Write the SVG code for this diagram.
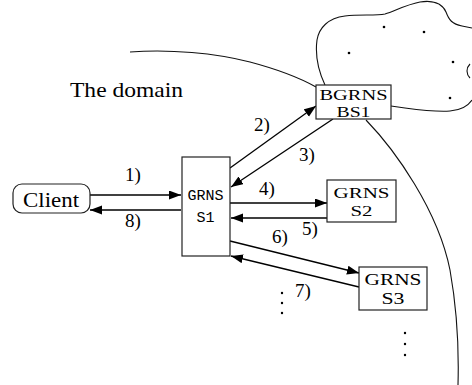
<svg xmlns="http://www.w3.org/2000/svg" width="472" height="385" viewBox="0 0 472 385">
<defs>
<style>
.box{fill:#fff;stroke:#222;stroke-width:1.2}
.curve{fill:none;stroke:#111;stroke-width:1.1}
.edge{fill:none;stroke:#000;stroke-width:1.3;marker-end:url(#ah)}
.t{fill:#000;text-anchor:middle}
.lbl{font-size:19px;fill:#000;text-anchor:middle}
.mono{font-size:15px;fill:#000;text-anchor:middle}
.dot{fill:#000}
</style>
<marker id="ah" markerUnits="userSpaceOnUse" markerWidth="13" markerHeight="10" refX="12" refY="4.5" orient="auto">
<path d="M0,0 L12,4.5 L0,9 z" fill="#000"/>
</marker>
</defs>
<rect width="472" height="385" fill="#fff"/>
<g id="domain" font-family="'Liberation Serif', 'DejaVu Serif', 'Times New Roman', serif">
<path class="curve" d="M130,52 C170,49 215,53 250,62 C280,70 300,78 316,87"/>
<path class="curve" d="M366,120 C395,150 438,210 450,270 C458,315 459,350 458,385"/>
<text class="t" x="126.5" y="97" font-size="21" textLength="113" lengthAdjust="spacingAndGlyphs">The domain</text>
</g>
<g id="cloud">
<path class="curve" d="M325,85 C318,70 315,55 317,40 C319,28 328,18 345,16 C360,14 375,16 385,14 C395,11 405,5 420,2 C432,0 442,3 446,12 C449,20 452,24 462,26 L472,28"/>
<path class="curve" d="M470,64 C466,68 466,74 470,78"/>
<path class="curve" d="M472,100 C468,106 462,110 450,111 C435,112 420,110 405,108 L391,106"/>
<circle class="dot" cx="384" cy="27" r="1.3"/>
<circle class="dot" cx="424" cy="32" r="1.3"/>
<circle class="dot" cx="349" cy="53" r="1.3"/>
<circle class="dot" cx="453" cy="62" r="1.3"/>
<circle class="dot" cx="450" cy="98" r="1.3"/>
</g>
<g id="edges" font-family="'Liberation Serif', 'DejaVu Serif', 'Times New Roman', serif">
<line class="edge" x1="90" y1="195" x2="181" y2="195"/>
<line class="edge" x1="181" y1="210" x2="90" y2="210"/>
<line class="edge" x1="230" y1="168" x2="316" y2="106"/>
<line class="edge" x1="333" y1="119" x2="231" y2="187"/>
<line class="edge" x1="230" y1="203" x2="327" y2="203"/>
<line class="edge" x1="327" y1="218" x2="231" y2="218"/>
<line class="edge" x1="230" y1="241" x2="359" y2="273"/>
<line class="edge" x1="359" y1="287" x2="231" y2="256"/>
<text class="lbl" x="133" y="181">1)</text>
<text class="lbl" x="133" y="227">8)</text>
<text class="lbl" x="262" y="131">2)</text>
<text class="lbl" x="307" y="161">3)</text>
<text class="lbl" x="267" y="195">4)</text>
<text class="lbl" x="310" y="235">5)</text>
<text class="lbl" x="280" y="243">6)</text>
<text class="lbl" x="303" y="297">7)</text>
</g>
<g id="client" font-family="'Liberation Serif', 'DejaVu Serif', 'Times New Roman', serif">
<rect class="box" x="13" y="184" width="77" height="29" rx="9" ry="9"/>
<text class="t" x="51" y="207" font-size="20" textLength="56" lengthAdjust="spacingAndGlyphs">Client</text>
</g>
<g id="s1" font-family="'Liberation Mono', 'DejaVu Sans Mono', 'Courier New', monospace">
<rect class="box" x="182" y="157" width="48" height="99"/>
<text class="mono" x="205.5" y="200">GRNS</text>
<text class="mono" x="205.5" y="222">S1</text>
</g>
<g id="bs1" font-family="'Liberation Serif', 'DejaVu Serif', 'Times New Roman', serif">
<rect class="box" x="316" y="85" width="75" height="34"/>
<text class="t" x="353.5" y="99.5" font-size="14.5" textLength="68" lengthAdjust="spacingAndGlyphs">BGRNS</text>
<text class="t" x="353.5" y="117" font-size="14.5" textLength="34" lengthAdjust="spacingAndGlyphs">BS1</text>
</g>
<g id="s2" font-family="'Liberation Serif', 'DejaVu Serif', 'Times New Roman', serif">
<rect class="box" x="327" y="180" width="69" height="42"/>
<text class="t" x="361.5" y="198" font-size="15" textLength="56" lengthAdjust="spacingAndGlyphs">GRNS</text>
<text class="t" x="361.5" y="216" font-size="15" textLength="22" lengthAdjust="spacingAndGlyphs">S2</text>
</g>
<g id="s3" font-family="'Liberation Serif', 'DejaVu Serif', 'Times New Roman', serif">
<rect class="box" x="359" y="267" width="68" height="43"/>
<text class="t" x="393" y="285" font-size="16" textLength="57" lengthAdjust="spacingAndGlyphs">GRNS</text>
<text class="t" x="393" y="304" font-size="16" textLength="23" lengthAdjust="spacingAndGlyphs">S3</text>
</g>
<g id="ellipsis">
<circle class="dot" cx="282" cy="293" r="1.2"/>
<circle class="dot" cx="282" cy="303" r="1.2"/>
<circle class="dot" cx="282" cy="313" r="1.2"/>
<circle class="dot" cx="405" cy="333" r="1.2"/>
<circle class="dot" cx="405" cy="344" r="1.2"/>
<circle class="dot" cx="405" cy="355" r="1.2"/>
</g>
</svg>
